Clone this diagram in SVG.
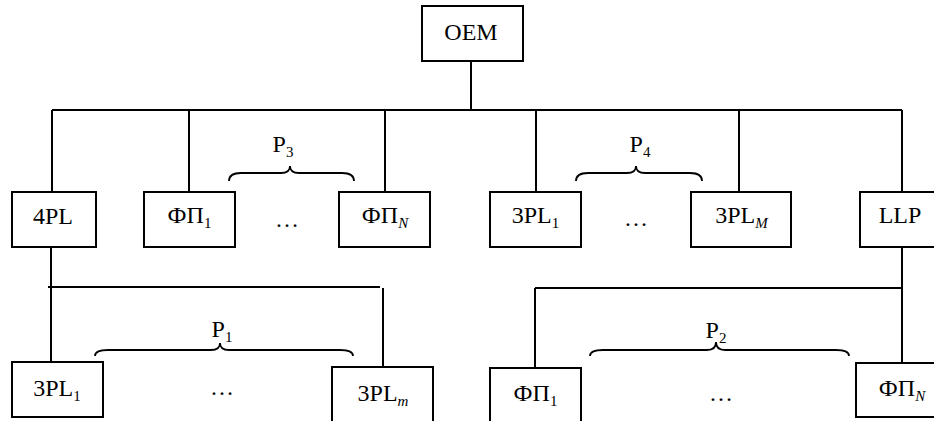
<svg xmlns="http://www.w3.org/2000/svg" width="934" height="421" viewBox="0 0 934 421">
<style>
.box{fill:#fff;stroke:#000;stroke-width:2}
.ln{fill:none;stroke:#000;stroke-width:2}
.br{fill:none;stroke:#000;stroke-width:1.8}
text{font-family:"Liberation Serif","Times New Roman",serif;font-size:24px;fill:#000;text-anchor:middle}
.sub{font-size:15px}
.it{font-style:italic}
</style>
<rect width="934" height="421" fill="#fff"/>
<g id="connectors">
<path class="ln" d="M471,61 V110 M52,110 H902 M52,110 V192 M189,110 V192 M385,110 V192 M536,110 V192 M739,110 V192 M902,110 V192"/>
<path class="ln" d="M51,247 V362 M48,287 H380 M383,288 V367"/>
<path class="ln" d="M902,247 V363 M535,288 H902 M535,288 V368"/>
</g>
<g id="braces">
<path class="br" d="M229,181 Q229,173 241,173 L281,173 Q290,173 290,166 Q290,173 299,173 L342,173 Q354,173 354,181"/>
<path class="br" d="M576,181 Q576,173 588,173 L627,173 Q636,173 636,166 Q636,173 645,173 L690,173 Q702,173 702,181"/>
<path class="br" d="M95,356 Q95,350 108,350 L211,350 Q220,350 220,343 Q220,350 229,350 L340,350 Q353,350 353,356"/>
<path class="br" d="M590,356 Q590,350 603,350 L707,350 Q716,350 716,342 Q716,350 725,350 L836,350 Q849,350 849,356"/>
<text x="283" y="152">P<tspan class="sub" dy="5">3</tspan></text>
<text x="640" y="152">P<tspan class="sub" dy="5">4</tspan></text>
<text x="222" y="337">P<tspan class="sub" dy="5">1</tspan></text>
<text x="716" y="338">P<tspan class="sub" dy="5">2</tspan></text>
</g>
<g id="oem"><rect class="box" x="422" y="6" width="101" height="55"/><text x="471" y="40">OEM</text></g>
<g id="n4pl"><rect class="box" x="12" y="192" width="84" height="55"/><text x="53" y="224">4PL</text></g>
<g id="fp1-top"><rect class="box" x="144" y="192" width="91" height="55"/><text x="189.5" y="223">ФП<tspan class="sub" dy="5">1</tspan></text></g>
<text x="287" y="227">…</text>
<g id="fpN-top"><rect class="box" x="339" y="192" width="91" height="55"/><text x="385" y="223">ФП<tspan class="sub it" dy="5">N</tspan></text></g>
<g id="p3l1-top"><rect class="box" x="490" y="192" width="91" height="55"/><text x="535.5" y="223">3PL<tspan class="sub" dy="5">1</tspan></text></g>
<text x="636" y="226">…</text>
<g id="p3lM"><rect class="box" x="691" y="192" width="100" height="55"/><text x="741.5" y="223">3PL<tspan class="sub it" dy="5">M</tspan></text></g>
<g id="llp"><rect class="box" x="860" y="192" width="84" height="55"/><text x="900" y="223">LLP</text></g>
<g id="p3l1-bot"><rect class="box" x="12" y="362" width="91" height="55"/><text x="57" y="396">3PL<tspan class="sub" dy="5">1</tspan></text></g>
<text x="222" y="395">…</text>
<g id="p3lm"><rect class="box" x="332" y="367" width="101" height="60"/><text x="383" y="401">3PL<tspan class="sub it" dy="5">m</tspan></text></g>
<g id="fp1-bot"><rect class="box" x="490" y="368" width="91" height="60"/><text x="535.5" y="401">ФП<tspan class="sub" dy="5">1</tspan></text></g>
<text x="721" y="401">…</text>
<g id="fpN-bot"><rect class="box" x="856" y="363" width="84" height="54"/><text x="902" y="396">ФП<tspan class="sub it" dy="5">N</tspan></text></g>
</svg>
